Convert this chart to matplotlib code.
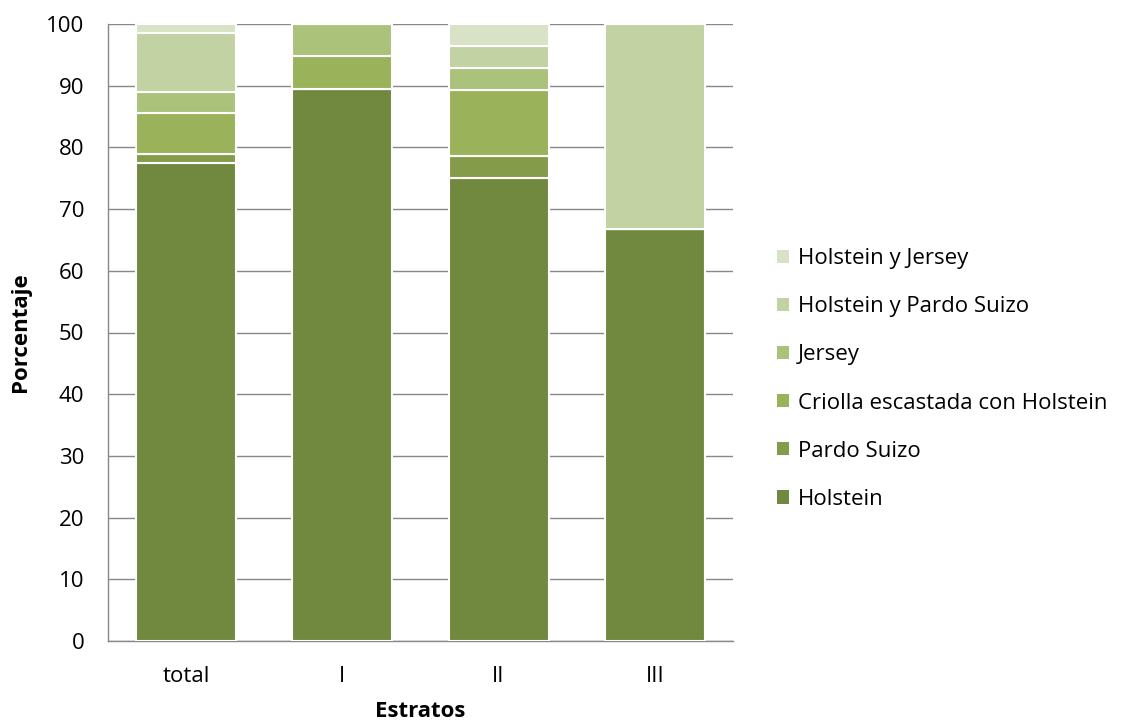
import matplotlib
matplotlib.use("Agg")
import matplotlib.pyplot as plt
import numpy as np

categories = ["total", "I", "II", "III"]
series_names = ["Holstein", "Pardo Suizo", "Criolla escastada con Holstein",
                "Jersey", "Holstein y Pardo Suizo", "Holstein y Jersey"]
holstein = [77.4, 89.5, 75.0, 66.7]
pardo_suizo = [1.6, 0.0, 3.6, 0.0]
criolla = [6.6, 5.25, 10.7, 0.0]
jersey = [3.3, 5.25, 3.6, 0.0]
hol_pardo = [9.6, 0.0, 3.6, 33.3]
hol_jersey = [1.5, 0.0, 3.5, 0.0]
colors = ["#71893E", "#849C4A", "#9AB35A", "#ABC27B", "#C2D2A3", "#D7E2C6"]

plt.rcParams['font.family'] = ['Open Sans', 'DejaVu Sans']

fig = plt.figure(figsize=(11.21, 7.25), dpi=100)
ax = fig.add_axes([108/1121, 1-641/725, (733-108)/1121, (641-24)/725])

x = np.arange(len(categories))
data = [holstein, pardo_suizo, criolla, jersey, hol_pardo, hol_jersey]
bottom = np.zeros(len(categories))
handles = []
for vals, name, c in zip(data, series_names, colors):
    vals = np.array(vals)
    b = ax.bar(x, vals, 0.64, bottom=bottom, color=c, edgecolor="white",
               linewidth=1.5, label=name, zorder=3)
    handles.append(b)
    bottom += vals

ax.set_xlim(-0.5, 3.5)
ax.set_ylim(0, 100)
ax.set_yticks(np.arange(0, 101, 10))
ax.yaxis.grid(True, color="#888888", linewidth=1, zorder=0)
ax.tick_params(axis="both", length=0, labelsize=16)
ax.tick_params(axis="y", pad=17)
ax.tick_params(axis="x", pad=18)
ax.set_xticks(x)
ax.set_xticklabels(categories)
for s in ["top", "right"]:
    ax.spines[s].set_visible(False)
for s in ["left", "bottom"]:
    ax.spines[s].set_color("#888888")
    ax.spines[s].set_linewidth(1)
ax.set_ylabel("Porcentaje", fontsize=16, fontweight="bold", labelpad=11)
ax.set_xlabel("Estratos", fontsize=16, fontweight="bold", labelpad=10)

leg = fig.legend(handles[::-1], series_names[::-1], loc="center left",
                 bbox_to_anchor=(757/1121, 1-379/725), frameon=False,
                 fontsize=16, handlelength=0.55, handleheight=0.55,
                 handletextpad=0.4, labelspacing=1.22)
for h in leg.legend_handles:
    h.set_edgecolor("none")

fig.savefig("out.png", dpi=100)
